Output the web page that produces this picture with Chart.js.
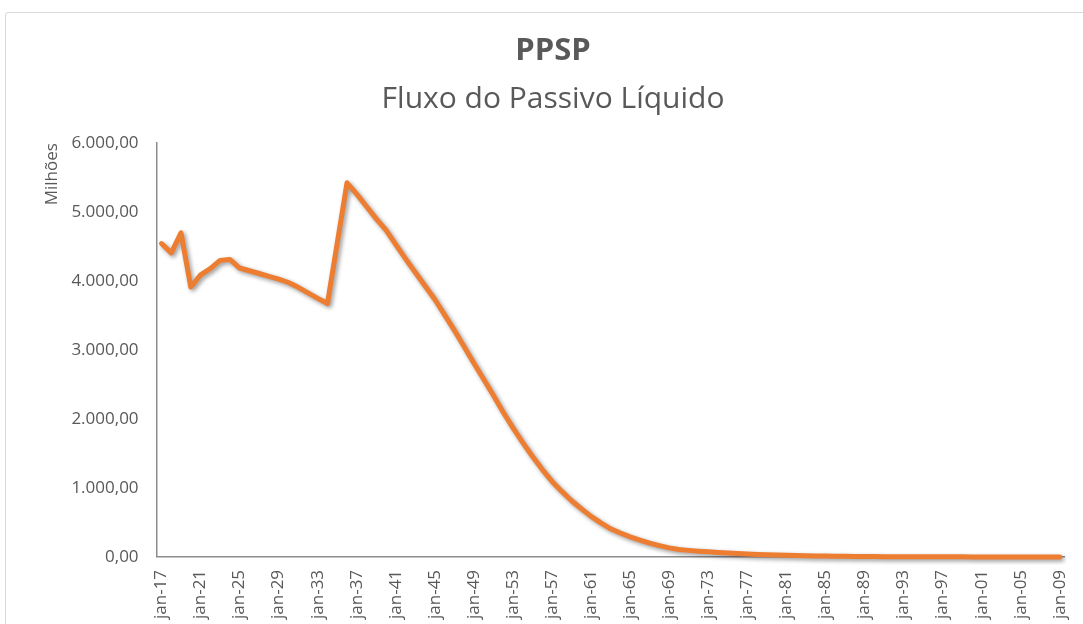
<!DOCTYPE html>
<html lang="pt">
<head>
    <meta charset="UTF-8">
    <title>PPSP - Fluxo do Passivo Líquido</title>
    <style>
        body {
            margin: 0;
            background: #ffffff;
            font-family: 'Open Sans', sans-serif;
        }
        #wrap {
            position: relative;
            width: 1083px;
            height: 624px;
            overflow: hidden;
        }
        #frame {
            position: absolute;
            left: 5px;
            top: 12px;
            width: 1100px;
            height: 640px;
            border: 1px solid #d9d9d9;
            border-radius: 3px;
        }
        canvas {
            position: absolute;
            left: 0;
            top: 0;
        }
    </style>
</head>
<body>

<div id="wrap">
    <div id="frame"></div>
    <canvas id="fluxoChart" width="1083" height="624"></canvas>
</div>

<script src="https://cdn.jsdelivr.net/npm/chart.js"></script>
<script>
    // Categorias: um ponto por ano, jan-17 (2017) até jan-09 (2109)
    const categorias = [
        'jan-17', 'jan-18', 'jan-19', 'jan-20', 'jan-21', 'jan-22', 'jan-23', 'jan-24', 'jan-25', 'jan-26',
        'jan-27', 'jan-28', 'jan-29', 'jan-30', 'jan-31', 'jan-32', 'jan-33', 'jan-34', 'jan-35', 'jan-36',
        'jan-37', 'jan-38', 'jan-39', 'jan-40', 'jan-41', 'jan-42', 'jan-43', 'jan-44', 'jan-45', 'jan-46',
        'jan-47', 'jan-48', 'jan-49', 'jan-50', 'jan-51', 'jan-52', 'jan-53', 'jan-54', 'jan-55', 'jan-56',
        'jan-57', 'jan-58', 'jan-59', 'jan-60', 'jan-61', 'jan-62', 'jan-63', 'jan-64', 'jan-65', 'jan-66',
        'jan-67', 'jan-68', 'jan-69', 'jan-70', 'jan-71', 'jan-72', 'jan-73', 'jan-74', 'jan-75', 'jan-76',
        'jan-77', 'jan-78', 'jan-79', 'jan-80', 'jan-81', 'jan-82', 'jan-83', 'jan-84', 'jan-85', 'jan-86',
        'jan-87', 'jan-88', 'jan-89', 'jan-90', 'jan-91', 'jan-92', 'jan-93', 'jan-94', 'jan-95', 'jan-96',
        'jan-97', 'jan-98', 'jan-99', 'jan-00', 'jan-01', 'jan-02', 'jan-03', 'jan-04', 'jan-05', 'jan-06',
        'jan-07', 'jan-08', 'jan-09'
    ];

    // Fluxo do passivo líquido (em milhões)
    const fluxoPassivo = [
        4545, 4410, 4700, 3915, 4090, 4180, 4300, 4315, 4190, 4150,
        4110, 4070, 4030, 3980, 3910, 3830, 3750, 3675, 4550, 5426,
        5262, 5083, 4903, 4738, 4528, 4323, 4125, 3929, 3733, 3510,
        3285, 3049, 2810, 2577, 2340, 2098, 1871, 1658, 1456, 1267,
        1095, 950, 815, 698, 588, 493, 408, 347, 291, 245,
        201, 164, 131, 108, 95, 84, 74, 64, 56, 49,
        42, 36, 31, 27, 23, 20, 17, 14, 12, 10,
        8, 7, 6, 5, 4, 3, 3, 2, 2, 1,
        1, 1, 1, 0, 0, 0, 0, 0, 0, 0,
        0, 0, 0
    ];

    // Eixo Y
    const yMin = 0;
    const yMax = 6000;
    const yPasso = 1000;
    const passoRotulos = 4; // um rótulo a cada 4 anos

    // formato pt-BR: 6.000,00
    function formatoBR(v) {
        const partes = Number(v).toFixed(2).split('.');
        const inteiro = partes[0].replace(/\B(?=(\d{3})+(?!\d))/g, '.');
        return inteiro + ',' + partes[1];
    }

    // sombra suave sob a linha, como no Excel
    const sombraLinha = {
        id: 'sombraLinha',
        beforeDatasetDraw(chart) {
            const c = chart.ctx;
            c.save();
            c.shadowColor = 'rgba(0, 0, 0, 0.4)';
            c.shadowBlur = 4;
            c.shadowOffsetX = 2;
            c.shadowOffsetY = 2;
        },
        afterDatasetDraw(chart) {
            chart.ctx.restore();
        }
    };

    const cinza = '#595959';

    const ctx = document.getElementById('fluxoChart').getContext('2d');
    const grafico = new Chart(ctx, {
        type: 'line',
        data: {
            labels: categorias,
            datasets: [{
                label: 'Fluxo do Passivo Líquido',
                data: fluxoPassivo,
                borderColor: '#ED7D31',
                borderWidth: 5,
                pointRadius: 0,
                tension: 0,
                borderJoinStyle: 'round',
                borderCapStyle: 'round',
                clip: 8
            }]
        },
        options: {
            responsive: false,
            animation: false,
            layout: {
                // valores ajustados a olho para casar com a área do gráfico original
                padding: { left: 28, right: 5, top: 0, bottom: -8 }
            },
            plugins: {
                legend: { display: false },
                tooltip: { enabled: false },
                title: {
                    display: true,
                    text: 'PPSP',
                    color: cinza,
                    font: { family: 'Open Sans', size: 31, weight: 'bold', lineHeight: 1.2 },
                    padding: { top: 33, bottom: 11 }
                },
                subtitle: {
                    display: true,
                    text: 'Fluxo do Passivo Líquido',
                    color: cinza,
                    font: { family: 'Open Sans', size: 30, weight: 'normal', lineHeight: 1.2 },
                    padding: { top: 0, bottom: 26 }
                }
            },
            scales: {
                x: {
                    type: 'category',
                    offset: true,
                    grid: { display: false, drawTicks: false },
                    border: { display: true, color: '#8c8c8c', width: 1.5 },
                    ticks: {
                        autoSkip: false,
                        minRotation: 90,
                        maxRotation: 90,
                        padding: 13,
                        color: cinza,
                        font: { family: 'Open Sans', size: 17, lineHeight: 0.6 },
                        callback: function (val, i) {
                            return i % passoRotulos === 0 ? this.getLabelForValue(val) : '';
                        }
                    }
                },
                y: {
                    min: yMin,
                    max: yMax,
                    grid: { display: false, drawTicks: false },
                    border: { display: true, color: '#8c8c8c', width: 1.5 },
                    ticks: {
                        stepSize: yPasso,
                        padding: 18,
                        color: cinza,
                        font: { family: 'Open Sans', size: 17 },
                        callback: (v) => formatoBR(v)
                    },
                    title: {
                        display: true,
                        text: 'Milhões',
                        align: 'end',
                        color: cinza,
                        font: { family: 'Open Sans', size: 17, lineHeight: 1.2 },
                        padding: { top: 14, bottom: -9 }
                    }
                }
            }
        },
        plugins: [sombraLinha]
    });
</script>
</body>
</html>
